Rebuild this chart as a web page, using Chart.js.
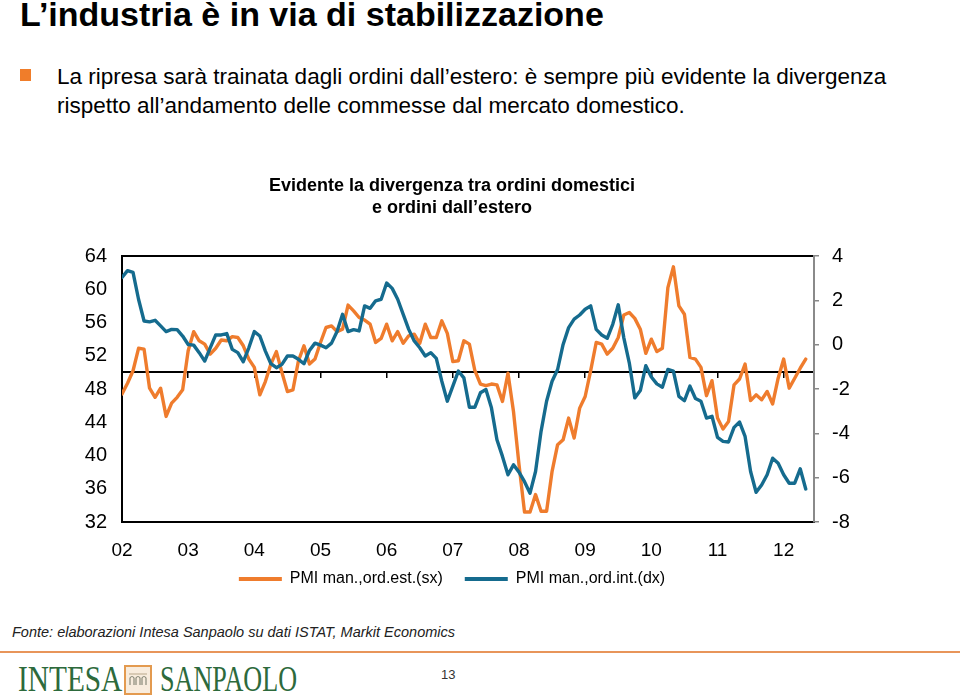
<!DOCTYPE html>
<html><head><meta charset="utf-8">
<script src="https://cdn.jsdelivr.net/npm/chart.js@4.4.1/dist/chart.umd.min.js"></script>
<style>
html,body{margin:0;padding:0;background:#fff;}
body{width:960px;height:697px;position:relative;overflow:hidden;font-family:"Liberation Sans",Arial,sans-serif;color:#000;}
#title{position:absolute;left:20px;top:-5px;font-size:34px;font-weight:bold;white-space:nowrap;}
#bullet{position:absolute;left:20px;top:69px;width:11px;height:12px;background:#F07D2A;}
#text{position:absolute;left:57px;top:62px;font-size:22.5px;line-height:29px;white-space:nowrap;}
#chartBox{position:absolute;left:40px;top:165px;width:824px;height:440px;}
#source{position:absolute;left:12px;top:624px;font-size:14.5px;font-style:italic;color:#222;white-space:nowrap;}
#rule{position:absolute;left:0;top:651px;width:960px;height:2px;background:#E8955A;}
.logo{position:absolute;top:661px;font-family:"Liberation Serif","Times New Roman",serif;font-size:36px;color:#2D6A3C;transform-origin:left top;white-space:nowrap;line-height:36px;}
#icon{position:absolute;left:124px;top:665px;}
#page{position:absolute;left:441px;top:667px;font-size:13px;color:#333;}
</style>
</head><body>
<div id="title">L’industria è in via di stabilizzazione</div>
<div id="bullet"></div>
<div id="text">La ripresa sarà trainata dagli ordini dall’estero: è sempre più evidente la divergenza<br>rispetto all’andamento delle commesse dal mercato domestico.</div>
<div id="chartBox"><canvas id="c" width="824" height="440"></canvas></div>
<div id="source">Fonte: elaborazioni Intesa Sanpaolo su dati ISTAT, Markit Economics</div>
<div id="rule"></div>
<div class="logo" style="left:18px;transform:scaleX(0.815);">INTESA</div>
<svg id="icon" width="28" height="30" viewBox="0 0 28 30">
  <rect x="1" y="1" width="26" height="28" fill="#F8ECDD" stroke="#E39A4F" stroke-width="2"/>
  <path d="M6 20 V13 Q8 10 10 13 V20 M12 20 V13 Q14 10 16 13 V20 M18 20 V13 Q20 10 22 13 V20" fill="none" stroke="#8A8A7A" stroke-width="1.2"/>
  <line x1="5" y1="9" x2="23" y2="9" stroke="#B8A78A" stroke-width="1"/>
</svg>
<div class="logo" style="left:160px;transform:scaleX(0.726);">SANPAOLO</div>
<div id="page">13</div>
<script>
// ---- data (monthly, Jan 2002 – May 2012) ----
const yearLabels = ['02','03','04','05','06','07','08','09','10','11','12'];
const yearTicks = [0,12,24,36,48,60,72,84,96,108,120];
const seriesNames = ['PMI man.,ord.est.(sx)', 'PMI man.,ord.int.(dx)'];
const ordEst = [
 47.4,48.7,50.2,52.9,52.8,48.1,47.0,48.1,44.7,46.3,47.0,47.9,
 52.6,54.9,53.8,53.4,52.2,52.9,53.9,53.8,54.3,54.2,53.2,51.6,
 50.6,47.3,48.9,51.0,52.5,50.0,47.7,47.9,51.4,53.2,51.0,51.6,
 53.6,55.4,55.6,54.9,55.2,58.1,57.4,56.6,56.3,55.8,53.6,54.1,
 55.8,53.8,54.9,53.5,54.4,54.6,53.5,55.8,54.2,54.2,56.2,54.7,
 51.3,51.4,53.8,53.4,50.2,48.6,48.4,48.6,48.5,46.5,49.9,45.3,
 38.9,33.2,33.2,35.3,33.3,33.3,38.1,41.3,41.9,44.5,42.1,45.7,
 47.1,50.2,53.6,53.4,52.2,52.9,54.2,56.9,57.2,56.5,55.2,52.3,
 54.0,52.5,52.9,60.2,62.7,58.0,57.0,51.8,51.6,50.6,47.2,49.0,
 44.5,43.2,44.1,48.5,49.2,51.0,46.6,47.3,46.7,47.7,46.2,49.3,
 51.6,48.1,49.3,50.5,51.6
];
const ordInt = [
 3.03,3.34,3.26,2.05,1.07,1.03,1.10,0.85,0.59,0.69,0.68,0.39,
 0.01,-0.02,-0.36,-0.74,-0.14,0.44,0.44,0.50,-0.21,-0.36,-0.77,-0.14,
 0.59,0.39,-0.29,-0.86,-1.04,-0.89,-0.51,-0.51,-0.66,-0.86,-0.26,0.07,
 -0.02,-0.14,0.07,0.59,1.37,0.59,0.68,0.62,1.75,1.64,1.98,2.05,
 2.78,2.54,2.05,1.37,0.69,0.17,-0.14,-0.51,-0.36,-0.62,-1.65,-2.55,
 -1.87,-1.19,-1.50,-2.82,-2.82,-2.17,-2.02,-2.85,-4.29,-5.04,-5.87,-5.42,
 -5.75,-6.18,-6.70,-5.72,-3.91,-2.55,-1.65,-1.12,0.01,0.77,1.15,1.34,
 1.60,1.75,0.69,0.44,0.29,0.92,1.80,0.32,-0.82,-2.40,-2.07,-0.95,
 -1.46,-1.77,-1.92,-1.12,-1.19,-2.33,-2.53,-1.87,-2.43,-2.55,-3.31,-3.23,
 -4.18,-4.36,-4.39,-3.73,-3.49,-4.14,-5.72,-6.66,-6.33,-5.87,-5.12,-5.35,
 -5.87,-6.25,-6.25,-5.60,-6.51
];
const leftTicks = [32,36,40,44,48,52,56,60,64];
const rightTicks = [-8,-6,-4,-2,0,2,4];
const threshold = 50;
const chartTitle = ['Evidente la divergenza tra ordini domestici','e ordini dall’estero'];

const ORANGE = '#EF7C2D';
const BLUE = '#156B8E';
const SANS = '"Liberation Sans",Arial,sans-serif';

const toXY = arr => arr.map((v,i)=>({x:i,y:v}));
const setTicks = list => (scale => { scale.ticks = list.map(v=>({value:v})); });
const X_MAX = 125.5;

new Chart(document.getElementById('c'), {
  type: 'line',
  data: {
    datasets: [
      {label: seriesNames[0], data: toXY(ordEst), yAxisID:'y', xAxisID:'x', borderColor: ORANGE, backgroundColor: ORANGE,
       borderWidth: 3.4, pointRadius: 0, tension: 0, borderJoinStyle:'round', borderCapStyle:'round', order: 2},
      {label: seriesNames[1], data: toXY(ordInt), yAxisID:'y2', xAxisID:'x', borderColor: BLUE, backgroundColor: BLUE,
       borderWidth: 3.4, pointRadius: 0, tension: 0, borderJoinStyle:'round', borderCapStyle:'round', order: 1}
    ]
  },
  options: {
    responsive: false, animation: false, devicePixelRatio: 1,
    layout: {padding: {top: 10, bottom: 8, left: 0, right: 0}},
    plugins: {
      title: {display: true, text: chartTitle, color:'#000', font:{family: SANS, size: 18, weight:'bold', lineHeight: 1.22}, padding:{top:0,bottom:37.1}},
      legend: {position:'bottom', labels:{color:'#000', font:{family: SANS, size: 16}, boxWidth: 43, boxHeight: 4, padding: 22,
        sort: (a,b) => a.datasetIndex - b.datasetIndex,
        generateLabels: (chart) => Chart.defaults.plugins.legend.labels.generateLabels(chart).map(l => ({...l, lineWidth: 0, fillStyle: l.strokeStyle}))}},
      tooltip: {enabled: false}
    },
    scales: {
      // x scale carrying the data, its border is the bottom frame and its labels hang below it
      x: {type:'linear', position:{y: 32}, min: 0, max: X_MAX, afterBuildTicks: setTicks(yearTicks),
          ticks:{autoSkip:false, maxRotation:0, padding: 17, color:'#000', font:{family: SANS, size: 19},
                 callback: v => yearLabels[yearTicks.indexOf(v)]},
          grid:{display:false, drawTicks:false}, border:{display:true, color:'#000', width:2}},
      // empty bottom axis reserving room for the labels above
      xSpace: {type:'linear', position:'bottom', min:0, max:X_MAX, ticks:{display:false},
          grid:{display:false, drawTicks:true, tickLength:27}, border:{display:false}},
      xTop: {type:'linear', position:'top', min:0, max:X_MAX, ticks:{display:false}, grid:{display:false, drawTicks:false},
          border:{display:true, color:'#000', width:2}},
      xZero: {type:'linear', position:{y: threshold}, min:0, max:X_MAX, afterBuildTicks: setTicks(yearTicks),
          ticks:{display:false}, grid:{display:true, drawOnChartArea:false, drawTicks:true, tickLength:5, color:'#000', lineWidth:1.5},
          border:{display:true, color:'#000', width:2}},
      y: {type:'linear', position:'left', min: 32, max: 64, afterBuildTicks: setTicks(leftTicks),
          afterFit: s => { s.width = 82; },
          ticks:{autoSkip:false, padding: 15, color:'#000', font:{family: SANS, size: 20}},
          grid:{display:false, drawTicks:false}, border:{display:true, color:'#000', width:2}},
      y2: {type:'linear', position:'right', min: -8, max: 4, afterBuildTicks: setTicks(rightTicks),
          afterFit: s => { s.width = 50; },
          ticks:{autoSkip:false, padding: 13, color:'#000', font:{family: SANS, size: 20}},
          grid:{display:true, drawOnChartArea:false, drawTicks:true, tickLength:5, color:'#888', lineWidth:1.5},
          border:{display:true, color:'#8a8a8a', width:2}}
    }
  }
});
</script>
</body></html>
